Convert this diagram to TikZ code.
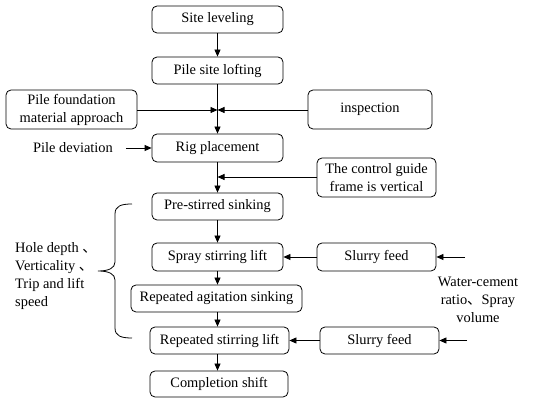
\documentclass[tikz,border=0pt]{standalone}
\usepackage{fontspec}
\setmainfont{Liberation Serif}
\newfontfamily\cjk{Noto Sans CJK SC}
\usetikzlibrary{arrows.meta}
\begin{document}
\begin{tikzpicture}[x=1pt,y=-1pt,
 box/.style={draw, rounded corners=5pt, line width=0.8pt, inner sep=0pt, align=center, font=\fontsize{14.4}{18}\selectfont},
 arr/.style={line width=0.8pt, -{Triangle[length=7pt,width=6pt]}},
 ln/.style={line width=0.8pt},
 lbl/.style={font=\fontsize{14.4}{18}\selectfont, inner sep=0pt}]
\useasboundingbox (0,0) rectangle (550,403);
% main chain
\node[box, minimum width=131pt, minimum height=27pt] (site) at (217.5,19.5) {Site leveling};
\node[box, minimum width=131pt, minimum height=27pt] (loft) at (217.5,70.5) {Pile site lofting};
\node[box, minimum width=131pt, minimum height=39pt] (mat) at (71.5,109.5) {Pile foundation\\material approach};
\node[box, minimum width=124pt, minimum height=39pt] (insp) at (370,109.5) {inspection};
\node[box, minimum width=131pt, minimum height=28pt] (rig) at (217.5,148) {Rig placement};
\node[box, minimum width=119pt, minimum height=39pt] (ctrl) at (376.5,177.5) {The control guide\\frame is vertical};
\node[box, minimum width=131pt, minimum height=27pt] (pre) at (217.5,206.5) {Pre-stirred sinking};
\node[box, minimum width=131pt, minimum height=28pt] (spray) at (217.5,257) {Spray stirring lift};
\node[box, minimum width=119pt, minimum height=28pt] (sl1) at (376.5,257) {Slurry feed};
\node[box, minimum width=171pt, minimum height=27pt] (agit) at (216.5,298.5) {Repeated agitation sinking};
\node[box, minimum width=139pt, minimum height=27pt] (rep) at (219.5,340.5) {Repeated stirring lift};
\node[box, minimum width=119pt, minimum height=27pt] (sl2) at (379.5,340.5) {Slurry feed};
\node[box, minimum width=138pt, minimum height=26pt] (comp) at (219,384) {Completion shift};
% labels
\node[lbl] (dev) at (73,148) {Pile deviation};
\node[lbl, align=left, anchor=west] (hole) at (15,276) {Hole depth {\cjk 、}\\Verticality {\cjk 、}\\Trip and lift\\speed};
\node[lbl, align=center] (wc) at (478,300) {Water-cement\\ratio{\cjk 、}Spray\\volume};
% junctions
\coordinate (j1) at (217.5,110);
\coordinate (j2) at (217.5,177);
\coordinate (w1) at (465,257);
\coordinate (w2) at (467,340.5);
% connectors
\draw[arr] (site) -- (loft);
\draw[arr] (loft) -- (rig);
\draw[arr] (mat.east |- j1) -- (j1);
\draw[arr] (insp.west |- j1) -- (j1);
\draw[arr] ([xshift=13pt]dev.east) -- (rig.west);
\draw[arr] (rig) -- (pre);
\draw[arr] (ctrl.west |- j2) -- (j2);
\draw[arr] (pre) -- (spray);
\draw[arr] (spray.south) -- (spray.south |- agit.north);
\draw[arr] (agit.south -| spray.south) -- (spray.south |- rep.north);
\draw[arr] (rep.south -| spray.south) -- (spray.south |- comp.north);
\draw[arr] (sl1) -- (spray);
\draw[arr] (sl2) -- (rep);
\draw[arr] (w1) -- (sl1);
\draw[arr] (w2) -- (sl2);
% brace
\draw[ln] (132,204) .. controls (121,204) and (115,206) .. (115,214) -- (115,262) .. controls (115,268) and (109,271) .. (98,271) .. controls (109,271) and (115,274) .. (115,280) -- (115,328) .. controls (115,336) and (121,338) .. (132,338);
\end{tikzpicture}
\end{document}
